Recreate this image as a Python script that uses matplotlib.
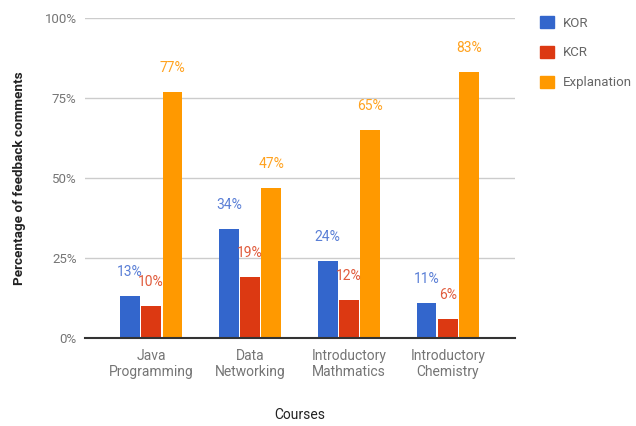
import numpy as np
import matplotlib.pyplot as plt
from matplotlib.patches import Patch

plt.rcParams['font.family'] = ['Roboto', 'DejaVu Sans']

courses = ['Java\nProgramming', 'Data\nNetworking', 'Introductory\nMathmatics', 'Introductory\nChemistry']
series = ['KOR', 'KCR', 'Explanation']
kor = [13, 34, 24, 11]
kcr = [10, 19, 12, 6]
explanation = [77, 47, 65, 83]

bar_colors = ['#3366cc', '#dc3912', '#ff9900']
label_colors = ['#5a7fd6', '#e05b3c', '#ffa21f']

fig = plt.figure(figsize=(6.36, 4.26), dpi=100)
ax = fig.add_axes([0.1336, 0.2066, 0.6761, 0.7511])

x = np.arange(len(courses))
width = 0.2
offset = 0.215

for i, (name, vals) in enumerate(zip(series, [kor, kcr, explanation])):
    pos = x + (i - 1) * offset
    ax.bar(pos, vals, width=width, color=bar_colors[i], zorder=3)
    for p, v in zip(pos, vals):
        ax.text(p, v + 5.3, '{}%'.format(v), ha='center', va='bottom',
                color=label_colors[i], fontsize=10, zorder=4)

ax.set_ylim(0, 100)
ax.set_xlim(-0.67, 3.68)
ax.set_yticks([0, 25, 50, 75, 100])
ax.set_yticklabels(['0%', '25%', '50%', '75%', '100%'])
ax.set_xticks(x)
ax.set_xticklabels(courses)
ax.tick_params(axis='both', length=0, colors='#757575', labelsize=9.5)
ax.tick_params(axis='x', pad=8, labelsize=10)
ax.tick_params(axis='y', pad=6)
ax.grid(axis='y', color='#cccccc', linewidth=1, zorder=0)
for s in ['top', 'right', 'left']:
    ax.spines[s].set_visible(False)
ax.spines['bottom'].set_color('#333333')
ax.spines['bottom'].set_linewidth(1.5)
ax.spines['bottom'].set_zorder(5)

ax.set_ylabel('Percentage of feedback comments', fontsize=9.7, fontweight='bold',
              color='#222222', labelpad=13)
ax.set_xlabel('Courses', fontsize=10, color='#222222', labelpad=21)

handles = [Patch(facecolor=c, edgecolor=c) for c in bar_colors]
fig.legend(handles, series, loc='upper left', bbox_to_anchor=(0.831, 0.99),
           frameon=False, fontsize=9.5, labelspacing=1.25, handlelength=1.0,
           handleheight=1.0, handletextpad=0.7, labelcolor='#666666')

plt.savefig('out.png', dpi=100)
